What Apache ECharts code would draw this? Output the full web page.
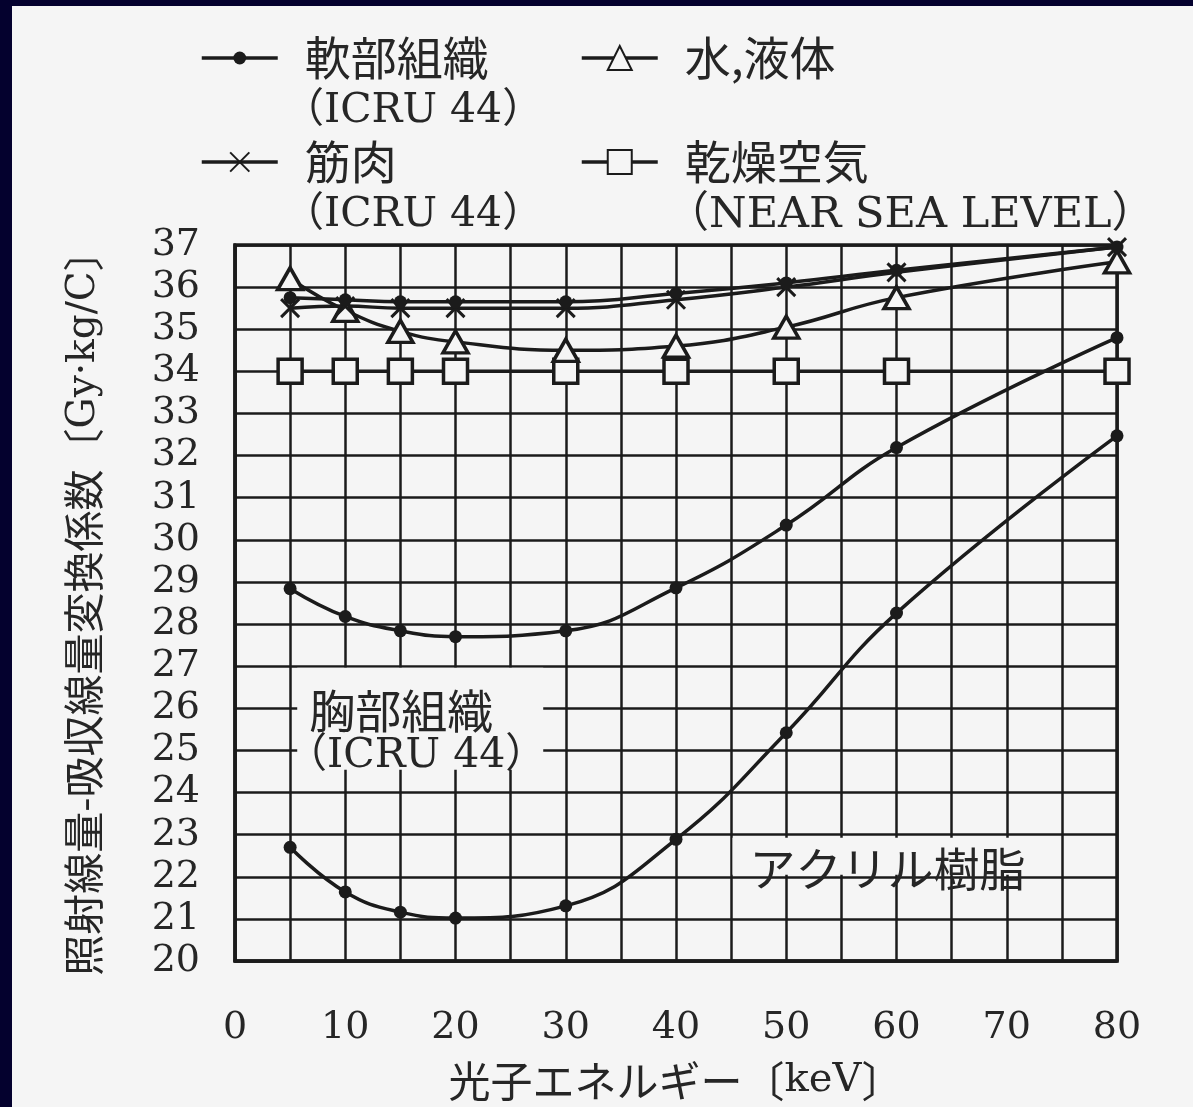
<!DOCTYPE html>
<html>
<head>
<meta charset="utf-8">
<script src="https://cdn.jsdelivr.net/npm/echarts@6/dist/echarts.min.js"></script>
<style>
  html, body { margin: 0; padding: 0; width: 100%; height: 100%; background: #f5f5f5; overflow: hidden; }
  #chart { position: absolute; left: 0; top: 0; width: 1193px; height: 1107px; background: #f5f5f5; }
  .edge { position: absolute; background: #04012e; }
</style>
</head>
<body>
<div id="chart"></div>
<div class="edge" style="left:0;top:0;width:1193px;height:6px;"></div>
<div class="edge" style="left:0;top:0;width:12px;height:1107px;"></div>
<script>
// Photon energy (keV) at which each coefficient is tabulated
const energies = [5, 10, 15, 20, 30, 40, 50, 60, 80];

// Exposure-to-absorbed-dose conversion factors (Gy·kg/C)
const softTissue = [35.75, 35.7, 35.65, 35.65, 35.65, 35.85, 36.1, 36.4, 36.95];
const muscle     = [35.5, 35.55, 35.5, 35.5, 35.5, 35.7, 36.0, 36.35, 36.95];
const water      = [36.2, 35.45, 34.95, 34.7, 34.5, 34.6, 35.05, 35.75, 36.6];
const dryAir     = [34.0, 34.0, 34.0, 34.0, 34.0, 34.0, 34.0, 34.0, 34.0];
const breast     = [28.84, 28.18, 27.84, 27.7, 27.84, 28.86, 30.35, 32.19, 34.8];
const acrylic    = [22.7, 21.64, 21.16, 21.02, 21.31, 22.89, 25.42, 28.26, 32.47];

const names = {
  soft: '軟部組織',
  water: '水,液体',
  muscle: '筋肉',
  air: '乾燥空気'
};

const INK = '#1b1b1b';
const TEXT = '#262626';
const PAPER = '#f5f5f5';
const LATIN = '"DejaVu Serif", "Noto Sans CJK JP", serif';
const CJK = '"Noto Sans CJK JP", "DejaVu Serif", sans-serif';

const pairs = ys => energies.map((x, i) => [x, ys[i]]);

const lineBase = {
  type: 'line',
  smooth: 0.45,
  lineStyle: { color: INK, width: 3.5 },
  emphasis: { disabled: true },
  animation: false
};

const chart = echarts.init(document.getElementById('chart'));

const legendCommon = {
  orient: 'horizontal',
  padding: 0,
  selectedMode: false,
  itemWidth: 76,
  lineStyle: { color: INK, width: 3.5 },
  textStyle: { fontFamily: CJK, fontSize: 46, color: TEXT, padding: [0, 0, 0, 22] }
};

const richName = {
  c: { fontFamily: CJK, color: TEXT },
  l: { fontFamily: LATIN, color: TEXT }
};

chart.setOption({
  backgroundColor: PAPER,
  grid: {
    left: 235, right: 76, top: 245, bottom: 140,
    show: true, borderColor: INK, borderWidth: 3.5
  },
  legend: [
    Object.assign({}, legendCommon, { data: [names.soft], left: 200, top: 35, itemHeight: 16 }),
    Object.assign({}, legendCommon, { data: [names.water], left: 580, top: 35, itemHeight: 30 }),
    Object.assign({}, legendCommon, { data: [names.muscle], left: 200, top: 139, itemHeight: 24 }),
    Object.assign({}, legendCommon, { data: [names.air], left: 580, top: 139, itemHeight: 30 })
  ],
  graphic: [
    { type: 'text', left: 283, top: 91, style: { text: '（ICRU 44）', font: '41px ' + LATIN, fill: TEXT } },
    { type: 'text', left: 283, top: 195, style: { text: '（ICRU 44）', font: '41px ' + LATIN, fill: TEXT } },
    { type: 'text', left: 666, top: 194, style: { text: '（NEAR SEA LEVEL）', font: '43px ' + LATIN, fill: TEXT } }
  ],
  xAxis: {
    type: 'value',
    min: 0, max: 80, interval: 5,
    name: '{c|光子エネルギー〔}{l|keV}{c|〕}',
    nameLocation: 'middle',
    nameGap: 99,
    nameTextStyle: {
      fontSize: 42, color: TEXT,
      rich: { c: Object.assign({ fontSize: 42 }, richName.c), l: Object.assign({ fontSize: 40 }, richName.l) }
    },
    axisLine: { show: true, lineStyle: { color: INK, width: 3.5 } },
    axisTick: { show: false },
    axisLabel: {
      margin: 48,
      fontFamily: LATIN, fontSize: 38, color: TEXT,
      formatter: v => (v % 10 === 0 ? String(v) : '')
    },
    splitLine: { show: true, lineStyle: { color: INK, width: 2.5 } }
  },
  yAxis: {
    type: 'value',
    min: 20, max: 37, interval: 1,
    name: '{c|照射線量-吸収線量変換係数〔}{l|Gy·kg/C}{c|〕}',
    nameLocation: 'middle',
    nameRotate: 90,
    nameGap: 131,
    nameTextStyle: {
      fontSize: 41, color: TEXT,
      rich: { c: Object.assign({ fontSize: 41 }, richName.c), l: Object.assign({ fontSize: 39 }, richName.l) }
    },
    axisLine: { show: true, lineStyle: { color: INK, width: 3.5 } },
    axisTick: { show: false },
    axisLabel: { margin: 35, padding: [10, 0, 0, 0], fontFamily: LATIN, fontSize: 38, color: TEXT },
    splitLine: { show: true, lineStyle: { color: INK, width: 2.5 } }
  },
  series: [
    Object.assign({}, lineBase, {
      name: names.air,
      data: pairs(dryAir),
      symbol: 'rect', symbolSize: 24,
      itemStyle: { color: PAPER, borderColor: INK, borderWidth: 3.5 }
    }),
    Object.assign({}, lineBase, {
      name: names.water,
      data: pairs(water),
      symbol: 'triangle', symbolSize: [25, 22],
      itemStyle: { color: PAPER, borderColor: INK, borderWidth: 3.5 }
    }),
    Object.assign({}, lineBase, {
      name: names.muscle,
      data: pairs(muscle),
      symbol: 'path://M0,0L10,10M10,0L0,10', symbolSize: 18,
      itemStyle: { color: 'none', borderColor: INK, borderWidth: 3 }
    }),
    Object.assign({}, lineBase, {
      name: names.soft,
      data: pairs(softTissue),
      symbol: 'circle', symbolSize: 13,
      itemStyle: { color: INK, borderColor: INK, borderWidth: 0 }
    }),
    Object.assign({}, lineBase, {
      name: '胸部組織',
      data: pairs(breast),
      symbol: 'circle', symbolSize: 13,
      itemStyle: { color: INK, borderWidth: 0 },
      markPoint: {
        silent: true,
        animation: false,
        data: [{
          coord: [16.8, 25.75],
          symbol: 'rect',
          symbolSize: [246, 102],
          itemStyle: { color: PAPER },
          label: {
            show: true, position: 'inside',
            offset: [-4, 14],
            formatter: '{a|胸部組織}\n{b|（ICRU 44）}',
            rich: {
              a: { fontFamily: CJK, fontSize: 46, color: TEXT, padding: [0, 30, 0, 0], lineHeight: 48 },
              b: { fontFamily: LATIN, fontSize: 41, color: TEXT, lineHeight: 44 }
            }
          }
        }]
      }
    }),
    Object.assign({}, lineBase, {
      name: 'アクリル樹脂',
      data: pairs(acrylic),
      symbol: 'circle', symbolSize: 13,
      itemStyle: { color: INK, borderWidth: 0 },
      markPoint: {
        silent: true,
        animation: false,
        data: [{
          coord: [59, 22.49],
          symbol: 'rect',
          symbolSize: [306, 37],
          itemStyle: { color: PAPER },
          label: {
            show: true, position: 'inside',
            offset: [2, 12],
            formatter: 'アクリル樹脂',
            fontFamily: CJK, fontSize: 46, color: TEXT
          }
        }]
      }
    })
  ]
});
</script>
</body>
</html>
